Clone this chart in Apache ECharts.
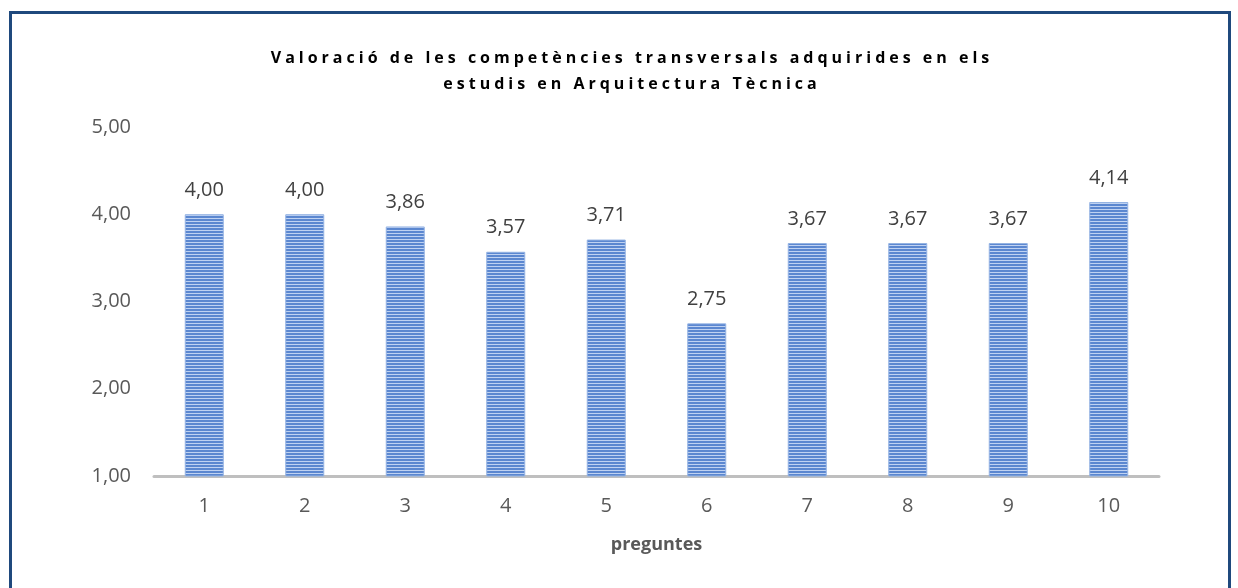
<!DOCTYPE html>
<html>
<head>
<meta charset="utf-8">
<script src="https://cdn.jsdelivr.net/npm/echarts@6/dist/echarts.min.js"></script>
<style>
  html, body { margin: 0; padding: 0; background: #fff; }
  #wrap { position: relative; width: 1238px; height: 588px; }
  #chart { width: 1238px; height: 588px; }
  #titol {
    position: absolute; left: 0; top: 44px; width: 1264px;
    text-align: center; font-family: "Open Sans", sans-serif; font-weight: bold;
    font-size: 16px; line-height: 26px; letter-spacing: 4px; color: #000;
  }
</style>
</head>
<body>
<div id="wrap">
  <div id="chart"></div>
  <div id="titol">Valoració de les competències transversals adquirides en els<br>estudis en Arquitectura Tècnica</div>
</div>
<script>
// dades
const preguntes = ["1", "2", "3", "4", "5", "6", "7", "8", "9", "10"];
const valors = [4.0, 4.0, 3.86, 3.57, 3.71, 2.75, 3.67, 3.67, 3.67, 4.14];
const nomEix = "preguntes";

// patró de ratlles horitzontals per a les barres
function ratlles() {
  const c = document.createElement("canvas");
  c.width = 4;
  c.height = 3;
  const ctx = c.getContext("2d");
  ctx.fillStyle = "#5b87d0";
  ctx.fillRect(0, 0, 4, 2);
  ctx.fillStyle = "#bfd2f2";
  ctx.fillRect(0, 2, 4, 1);
  return c;
}

const coma = (v) => v.toFixed(2).replace(".", ",");

var myChart = echarts.init(document.getElementById("chart"));
var option = {
  animation: false,
  grid: {
    left: 154,
    right: 79,
    top: 127,
    bottom: 112,
    containLabel: false,
  },
  graphic: [
    {
      type: "rect",
      shape: { x: 10.5, y: 12.5, width: 1219, height: 600 },
      style: { fill: "none", stroke: "#1f497d", lineWidth: 3 },
      silent: true,
    },
  ],
  xAxis: {
    type: "category",
    data: preguntes,
    name: nomEix,
    nameLocation: "middle",
    nameGap: 60,
    nameTextStyle: {
      color: "#595959",
      fontFamily: "Open Sans",
      fontWeight: "bold",
      fontSize: 18,
    },
    axisLine: { lineStyle: { color: "#bfbfbf", width: 3 } },
    axisTick: { show: false },
    axisLabel: {
      color: "#595959",
      fontFamily: "Open Sans",
      fontSize: 20,
      margin: 20,
    },
  },
  yAxis: {
    type: "value",
    min: 1,
    max: 5,
    interval: 1,
    axisLine: { show: false },
    axisTick: { show: false },
    splitLine: { show: false },
    axisLabel: {
      color: "#595959",
      fontFamily: "Open Sans",
      fontSize: 20,
      margin: 23,
      formatter: (v) => coma(v),
    },
  },
  series: [
    {
      type: "bar",
      data: valors,
      barWidth: 39,
      itemStyle: {
        color: { image: ratlles(), repeat: "repeat" },
        borderColor: "#94b3e3",
        borderWidth: 1,
      },
      label: {
        show: true,
        position: "top",
        distance: 14,
        color: "#404040",
        fontFamily: "Open Sans",
        fontSize: 20,
        formatter: (p) => coma(p.value),
      },
    },
  ],
};
option && myChart.setOption(option);
window.addEventListener("resize", function () {
  myChart.resize();
});
</script>
</body>
</html>
